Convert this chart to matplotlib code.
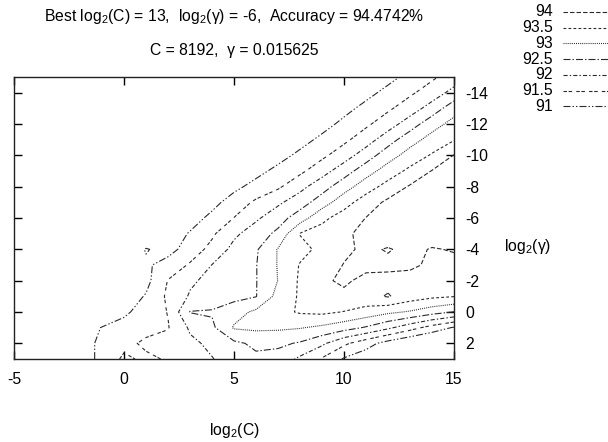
import numpy as np
import matplotlib
matplotlib.use('Agg')
import matplotlib.pyplot as plt
from matplotlib.lines import Line2D

plt.rcParams['font.family'] = ['Liberation Sans', 'DejaVu Sans']
plt.rcParams['mathtext.fontset'] = 'custom'
plt.rcParams['mathtext.rm'] = 'Liberation Sans'
plt.rcParams['mathtext.it'] = 'Liberation Sans'
plt.rcParams['lines.scale_dashes'] = False

# grid axes
log2c = list(range(-5, 16))
log2g = list(range(-15, 4))

# cross-validation accuracy, one list per log2(gamma) row, columns log2(C) = -5..15
acc_g_m15 = [85.75, 86.05, 86.35, 86.65, 86.95, 87.25, 87.55, 87.85, 88.15, 88.45, 88.75, 89.05, 89.35, 89.65, 89.95, 90.25, 90.55, 90.85, 91.14, 91.42, 91.72]
acc_g_m14 = [86.05, 86.35, 86.65, 86.95, 87.25, 87.55, 87.85, 88.15, 88.45, 88.75, 89.05, 89.35, 89.65, 89.95, 90.25, 90.55, 90.85, 91.14, 91.42, 91.73, 92.17]
acc_g_m13 = [86.35, 86.65, 86.95, 87.25, 87.55, 87.85, 88.15, 88.45, 88.75, 89.05, 89.35, 89.65, 89.95, 90.25, 90.55, 90.85, 91.14, 91.42, 91.75, 92.21, 92.80]
acc_g_m12 = [86.62, 86.92, 87.22, 87.52, 87.82, 88.12, 88.42, 88.72, 89.02, 89.32, 89.62, 89.92, 90.22, 90.52, 90.82, 91.12, 91.41, 91.77, 92.25, 92.80, 93.16]
acc_g_m11 = [86.92, 87.22, 87.52, 87.82, 88.12, 88.42, 88.72, 89.02, 89.32, 89.62, 89.92, 90.22, 90.52, 90.82, 91.11, 91.39, 91.77, 92.28, 92.80, 93.18, 93.47]
acc_g_m10 = [87.22, 87.52, 87.82, 88.12, 88.42, 88.72, 89.02, 89.32, 89.62, 89.92, 90.22, 90.52, 90.82, 91.11, 91.39, 91.77, 92.25, 92.78, 93.20, 93.55, 94.02]
acc_g_m9 = [87.55, 87.85, 88.15, 88.45, 88.75, 89.05, 89.35, 89.65, 89.95, 90.25, 90.55, 90.85, 91.13, 91.39, 91.80, 92.27, 92.78, 93.23, 93.62, 94.02, 94.15]
acc_g_m8 = [87.88, 88.18, 88.48, 88.78, 89.08, 89.38, 89.68, 89.98, 90.28, 90.58, 90.88, 91.16, 91.42, 91.85, 92.29, 92.78, 93.27, 93.68, 94.05, 94.20, 94.30]
acc_g_m7 = [88.15, 88.45, 88.75, 89.05, 89.35, 89.65, 89.95, 90.25, 90.55, 90.85, 91.21, 91.59, 91.91, 92.27, 92.75, 93.30, 93.75, 94.10, 94.30, 94.35, 94.30]
acc_g_m6 = [88.39, 88.69, 88.99, 89.29, 89.59, 89.89, 90.19, 90.49, 90.79, 91.12, 91.51, 91.92, 92.29, 92.75, 93.38, 93.72, 94.01, 94.30, 94.4742, 94.35, 94.25]
acc_g_m5 = [88.63, 88.93, 89.23, 89.53, 89.83, 90.13, 90.43, 90.73, 91.04, 91.42, 91.90, 92.25, 92.61, 93.52, 93.70, 93.90, 94.15, 94.30, 94.40, 94.30, 94.20]
acc_g_m4 = [88.84, 89.14, 89.44, 89.74, 90.04, 90.50, 91.04, 90.80, 91.25, 91.64, 92.15, 92.44, 93.03, 93.34, 93.63, 93.90, 94.10, 93.96, 94.15, 93.96, 94.04]
acc_g_m3 = [89.11, 89.41, 89.71, 90.01, 90.31, 90.61, 90.91, 91.22, 91.55, 92.01, 92.24, 92.48, 93.03, 93.53, 93.72, 94.02, 94.10, 94.12, 94.10, 93.90, 93.85]
acc_g_m2 = [89.05, 89.35, 89.65, 89.95, 90.25, 90.55, 90.85, 91.52, 91.92, 92.14, 92.31, 92.48, 93.01, 93.57, 93.94, 94.06, 93.90, 93.85, 93.80, 93.75, 93.70]
acc_g_m1 = [89.22, 89.52, 89.82, 90.12, 90.42, 90.72, 91.04, 91.59, 92.05, 92.20, 92.34, 92.48, 93.17, 93.56, 93.80, 93.92, 93.85, 94.04, 93.75, 93.60, 93.52]
acc_g_0 = [89.41, 89.71, 90.01, 90.31, 90.61, 90.91, 91.21, 91.52, 92.52, 92.55, 92.80, 93.10, 93.35, 93.55, 93.60, 93.48, 93.30, 93.10, 92.95, 92.70, 92.48]
acc_g_1 = [89.83, 90.13, 90.43, 90.73, 91.02, 91.17, 91.33, 91.47, 92.07, 92.40, 93.05, 93.10, 93.08, 93.03, 92.90, 92.70, 92.45, 92.10, 91.70, 91.30, 90.95]
acc_g_2 = [90.10, 90.30, 90.50, 90.80, 91.10, 91.35, 91.60, 91.70, 91.90, 92.10, 92.40, 92.60, 92.60, 92.45, 92.10, 91.60, 91.20, 90.80, 90.50, 90.30, 90.00]
acc_g_3 = [89.90, 90.10, 90.40, 90.80, 91.10, 91.60, 91.40, 91.55, 91.80, 91.98, 92.20, 92.40, 92.30, 91.90, 91.45, 90.95, 90.70, 90.50, 90.30, 90.10, 89.90]

levels = [91, 91.5, 92, 92.5, 93, 93.5, 94]
level_labels = ['94', '93.5', '93', '92.5', '92', '91.5', '91']

x_ticks = [-5, 0, 5, 10, 15]
x_ticklabels = ['-5', '0', '5', '10', '15']
y_ticks = [-14, -12, -10, -8, -6, -4, -2, 0, 2]
y_ticklabels = ['-14', '-12', '-10', '-8', '-6', '-4', '-2', '0', '2']

title1 = 'Best log$_2$(C) = 13,  log$_2$(γ) = -6,  Accuracy = 94.4742%'
title2 = 'C = 8192,  γ = 0.015625'

Z = np.array([acc_g_m15, acc_g_m14, acc_g_m13, acc_g_m12, acc_g_m11, acc_g_m10,
              acc_g_m9, acc_g_m8, acc_g_m7, acc_g_m6, acc_g_m5, acc_g_m4,
              acc_g_m3, acc_g_m2, acc_g_m1, acc_g_0, acc_g_1, acc_g_2, acc_g_3])
X, Y = np.meshgrid(log2c, log2g)

styles = {
    91: (0, (5, 1.5, 1, 1.5, 1, 1.5)),
    91.5: (0, (2.5, 1.2, 2.5, 3)),
    92: (0, (3, 1.5, 1, 1.5)),
    92.5: (0, (5, 1.5, 1, 1.5)),
    93: (0, (0.7, 0.8)),
    93.5: (0, (2, 1.6)),
    94: (0, (3.2, 1.5)),
}
line_color = '#2a2a2a'
lw = 0.8

W, H = 608, 442
fig = plt.figure(figsize=(W / 100, H / 100), dpi=100)
ax = fig.add_axes([14 / W, 1 - 359 / H, (454 - 14) / W, (359 - 77) / H])

cs = ax.contour(X, Y, Z, levels=levels, colors=line_color, linewidths=lw,
                linestyles=[styles[l] for l in levels])

fs = 11.3
ax.set_xlim(-5, 15)
ax.set_ylim(3, -15)
ax.set_xticks(x_ticks)
ax.set_xticklabels(x_ticklabels)
ax.set_yticks(y_ticks)
ax.set_yticklabels(y_ticklabels)
ax.tick_params(axis='x', direction='in', length=6, width=1, top=True, bottom=True,
               labelbottom=True, labeltop=False, labelsize=fs, pad=9)
ax.tick_params(axis='y', direction='in', length=6, width=1, left=True, right=True,
               labelleft=False, labelright=True, labelsize=fs, pad=8)
for s in ax.spines.values():
    s.set_linewidth(1.0)
    s.set_color('#222222')

fig.text(234 / W, 1 - 17 / H, title1, ha='center', va='center', fontsize=fs)
fig.text(234 / W, 1 - 50 / H, title2, ha='center', va='center', fontsize=fs)
fig.text(234 / W, 1 - 430 / H, 'log$_2$(C)', ha='center', va='center', fontsize=fs)
fig.text(528 / W, 1 - 247 / H, 'log$_2$(γ)', ha='center', va='center', fontsize=fs)

# key
for i, lab in enumerate(level_labels):
    lev = float(lab)
    yp = 12 + i * 15.7
    fig.text(553 / W, 1 - yp / H, lab, ha='right', va='center', fontsize=fs)
    fig.add_artist(Line2D([563 / W, 615 / W], [1 - yp / H, 1 - yp / H],
                          transform=fig.transFigure, color=line_color, lw=lw,
                          linestyle=styles[lev]))

fig.savefig('out.png', dpi=100)
